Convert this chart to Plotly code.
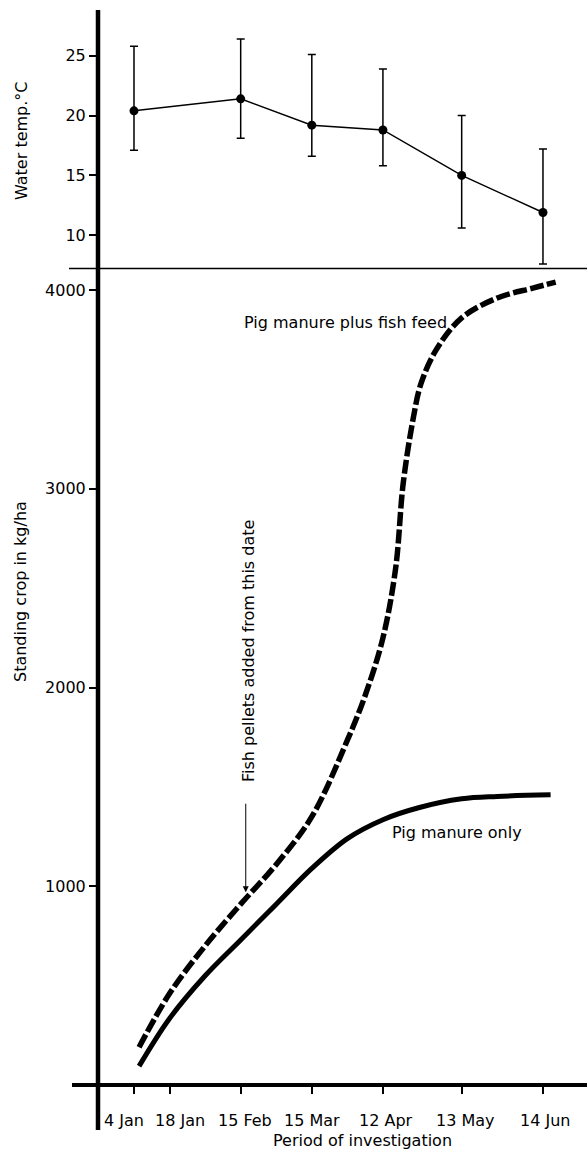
import plotly.graph_objects as go

W, H = 587, 1150

# ---------------- data ----------------
temp_dates = ["1983-01-04", "1983-02-15", "1983-03-15", "1983-04-12", "1983-05-13", "1983-06-14"]
temp_mean = [20.4, 21.4, 19.2, 18.8, 15.0, 11.9]
temp_upper = [25.8, 26.4, 25.1, 23.9, 20.0, 17.2]
temp_lower = [17.1, 18.1, 16.6, 15.8, 10.6, 7.6]

fish_dates = ["1983-01-06", "1983-01-18", "1983-02-01", "1983-02-15", "1983-03-01", "1983-03-15",
              "1983-03-29", "1983-04-05", "1983-04-12", "1983-04-17", "1983-04-20", "1983-04-24",
              "1983-04-27", "1983-05-03", "1983-05-13", "1983-05-27", "1983-06-10", "1983-06-19"]
fish_crop = [190, 460, 700, 910, 1110, 1350,
             1735, 1960, 2250, 2600, 3030, 3360,
             3530, 3700, 3860, 3960, 4010, 4040]

pig_dates = ["1983-01-06", "1983-01-18", "1983-02-01", "1983-02-15", "1983-03-01", "1983-03-15",
             "1983-03-29", "1983-04-12", "1983-04-26", "1983-05-13", "1983-05-27", "1983-06-17"]
pig_crop = [95, 335, 550, 730, 910, 1090,
            1240, 1335, 1395, 1440, 1452, 1460]

tick_dates = ["1983-01-04", "1983-01-18", "1983-02-15", "1983-03-15", "1983-04-12", "1983-05-13", "1983-06-14"]
tick_labels = ["4 Jan", "18 Jan", "15 Feb", "15 Mar", "12 Apr", "13 May", "14 Jun"]
temp_ticks = [10, 15, 20, 25]
crop_ticks = [1000, 2000, 3000, 4000]

pellet_date = "1983-02-17"
pellet_level = 970

# ---------------- styling helpers ----------------
FONT = "DejaVu Sans"
label_shift = [-10, 10, 4, 0, 3, 4, 2]


def pxx(p):
    return p / W


def pxy(p):
    return 1 - p / H


x_range = ["1982-12-20 20:00", "1983-07-01 08:00"]

fig = go.Figure()

fig.add_trace(go.Scatter(
    x=temp_dates, y=temp_mean, mode="lines+markers",
    line=dict(color="black", width=1.5),
    marker=dict(color="black", size=9),
    error_y=dict(type="data", symmetric=False,
                 array=[u - m for u, m in zip(temp_upper, temp_mean)],
                 arrayminus=[m - l for m, l in zip(temp_mean, temp_lower)],
                 color="black", thickness=1.5, width=4),
    xaxis="x2", yaxis="y2", showlegend=False, cliponaxis=False,
))

fig.add_trace(go.Scatter(
    x=fish_dates, y=fish_crop, mode="lines",
    line=dict(color="black", width=5.5, dash="14px,3.5px", shape="spline", smoothing=1.0),
    xaxis="x", yaxis="y", showlegend=False,
))

fig.add_trace(go.Scatter(
    x=pig_dates, y=pig_crop, mode="lines",
    line=dict(color="black", width=5, shape="spline", smoothing=1.0),
    xaxis="x", yaxis="y", showlegend=False,
))

axis_font = dict(family=FONT, size=16, color="black")

fig.update_layout(
    width=W, height=H,
    margin=dict(l=0, r=0, t=0, b=0),
    paper_bgcolor="white", plot_bgcolor="white",
    font=axis_font,
    xaxis=dict(domain=[pxx(98), 1], type="date", range=x_range,
               tickvals=tick_dates, ticktext=[""] * len(tick_dates),
               ticks="outside", ticklen=8, tickwidth=1.5, tickcolor="black",
               showgrid=False, zeroline=False, showline=False, anchor="y"),
    yaxis=dict(domain=[pxy(1085), pxy(268)], range=[0, 4111],
               tickvals=crop_ticks, ticks="outside", ticklen=8, tickwidth=1.5,
               tickcolor="black", showgrid=False, zeroline=False, showline=False,
               tickfont=axis_font, anchor="x"),
    xaxis2=dict(domain=[pxx(98), 1], type="date", range=x_range, visible=False,
                anchor="y2", showgrid=False, zeroline=False),
    yaxis2=dict(domain=[pxy(268), pxy(10)], range=[7.26, 28.83],
                tickvals=temp_ticks, ticks="outside", ticklen=8, tickwidth=1.5,
                tickcolor="black", showgrid=False, zeroline=False, showline=False,
                tickfont=axis_font, anchor="x2"),
)

shapes = [
    dict(type="line", xref="paper", yref="paper", x0=pxx(98), x1=pxx(98),
         y0=pxy(1130), y1=pxy(10), line=dict(color="black", width=4.5)),
    dict(type="line", xref="paper", yref="paper", x0=pxx(69), x1=1,
         y0=pxy(268.5), y1=pxy(268.5), line=dict(color="black", width=1.5)),
    dict(type="line", xref="paper", yref="paper", x0=pxx(72), x1=1,
         y0=pxy(1085), y1=pxy(1085), line=dict(color="black", width=4)),
]
fig.update_layout(shapes=shapes)

ann = []
for d, t, s in zip(tick_dates, tick_labels, label_shift):
    ann.append(dict(x=d, xref="x", y=pxy(1120), yref="paper", text=t, showarrow=False,
                    xshift=s, xanchor="center", yanchor="middle",
                    font=dict(family=FONT, size=16, color="black")))

ann += [
    dict(x=pxx(362), y=pxy(1140), xref="paper", yref="paper", text="Period of investigation",
         showarrow=False, xanchor="center", yanchor="middle",
         font=dict(family=FONT, size=16, color="black")),
    dict(x=pxx(21), y=pxy(141), xref="paper", yref="paper", text="Water temp.°C",
         showarrow=False, textangle=-90, xanchor="center", yanchor="middle",
         font=dict(family=FONT, size=16, color="black")),
    dict(x=pxx(20), y=pxy(592), xref="paper", yref="paper", text="Standing crop in kg/ha",
         showarrow=False, textangle=-90, xanchor="center", yanchor="middle",
         font=dict(family=FONT, size=16, color="black")),
    dict(x=pxx(345), y=pxy(322), xref="paper", yref="paper", text="Pig manure plus fish feed",
         showarrow=False, xanchor="center", yanchor="middle",
         font=dict(family=FONT, size=16, color="black")),
    dict(x=pxx(457), y=pxy(832), xref="paper", yref="paper", text="Pig manure only",
         showarrow=False, xanchor="center", yanchor="middle",
         font=dict(family=FONT, size=16, color="black")),
    dict(x=pxx(248), y=pxy(651), xref="paper", yref="paper", text="Fish pellets added from this date",
         showarrow=False, textangle=-90, xanchor="center", yanchor="middle",
         font=dict(family=FONT, size=16, color="black")),
    dict(x=pellet_date, y=pellet_level, xref="x", yref="y", text="",
         showarrow=True, ax=0, ay=-90, arrowhead=2, arrowsize=1.2, arrowwidth=1,
         arrowcolor="black", standoff=0),
]
fig.update_layout(annotations=ann)

fig.write_html(
    "out.html",
    config={"displayModeBar": False},
    post_script="document.body.style.margin='0';document.body.style.padding='0';",
)
